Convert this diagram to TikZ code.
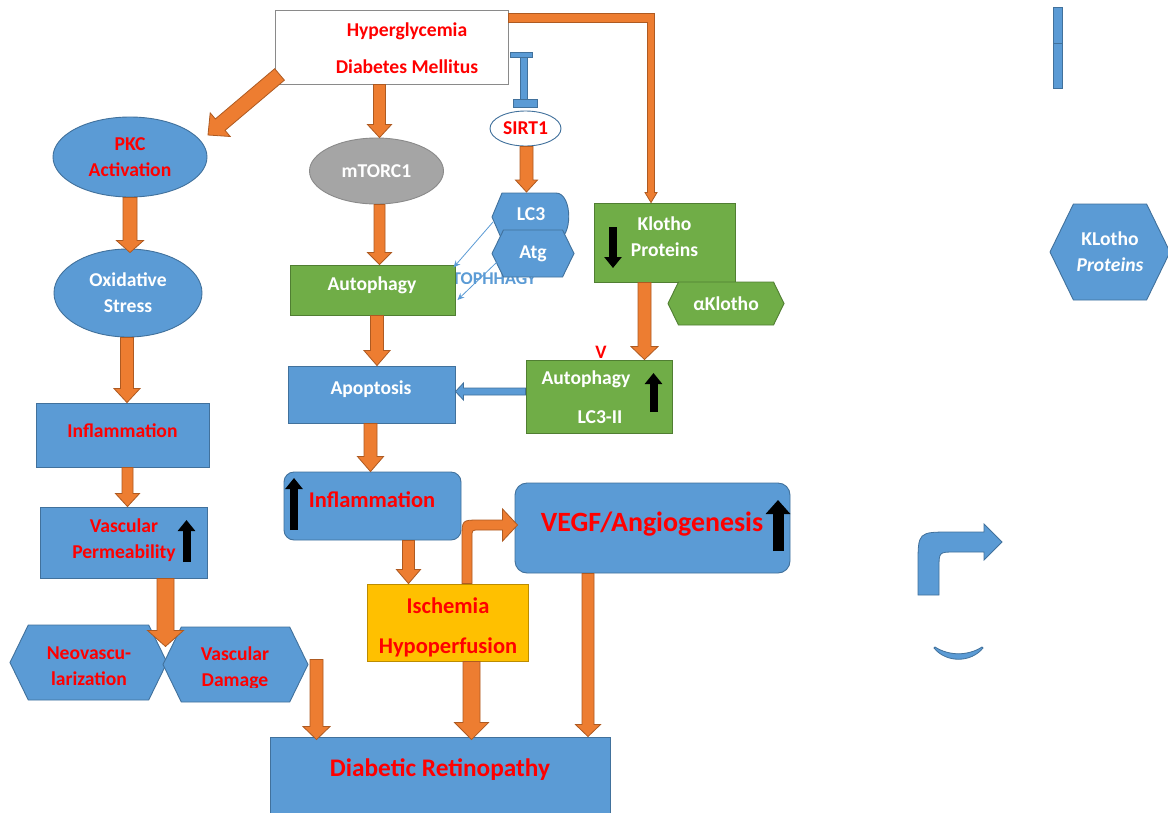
\documentclass[tikz,border=0pt]{standalone}
\usepackage{fontspec}
\setmainfont{Carlito}
\usetikzlibrary{shapes.geometric,shapes.symbols,arrows.meta,calc}
\definecolor{cblue}{HTML}{5B9BD5}
\definecolor{cbluedk}{HTML}{41719C}
\definecolor{cgreen}{HTML}{70AD47}
\definecolor{cgreendk}{HTML}{507E32}
\definecolor{corange}{HTML}{ED7D31}
\definecolor{corangedk}{HTML}{AE5A21}
\definecolor{cgray}{HTML}{A5A5A5}
\definecolor{cgraydk}{HTML}{8A8A8A}
\definecolor{cred}{HTML}{FF0000}
\definecolor{cyellow}{HTML}{FFC000}
\definecolor{cyellowdk}{HTML}{BC8C00}
\newcommand\blockarrow[6][oarrow]{%
  \coordinate (ba1) at #2;
  \coordinate (ba2) at #3;
  \coordinate (bah) at ($(ba2)!#6!(ba1)$);
  \path[#1] ($(ba1)!#4!90:(ba2)$) -- ($(bah)!#4!-90:(ba1)$) -- ($(bah)!#5!-90:(ba1)$) -- (ba2)
    -- ($(bah)!#5!90:(ba1)$) -- ($(bah)!#4!90:(ba1)$) -- ($(ba1)!#4!-90:(ba2)$) -- cycle;}
\tikzset{
  txt/.style={font=\bfseries\fontsize{19.6}{26}\selectfont, inner sep=0pt},
  bshape/.style={draw=cbluedk, fill=cblue, line width=0.9pt, inner sep=0pt},
  gshape/.style={draw=cgreendk, fill=cgreen, line width=0.9pt, inner sep=0pt},
  hexa/.style={shape=signal, signal to=east and west, signal pointer angle=128},
  oarrow/.style={fill=corange, draw=corangedk, line width=0.8pt},
  barrow/.style={fill=cblue, draw=cbluedk, line width=0.8pt},
  karrow/.style={draw=black, line width=8pt, -{Triangle[length=11pt,width=17pt]}},
  thinarr/.style={draw=cblue, line width=0.8pt, -{Stealth[length=7pt,width=6pt]}},
}
\begin{document}
\begin{tikzpicture}[x=1pt,y=-1pt]
\useasboundingbox (0,0) rectangle (1168,812);
\fill[white] (0,0) rectangle (1168,812);

% ---------- top box
\node[draw=cgraydk, fill=white, line width=0.9pt, minimum width=233pt, minimum height=74pt] (hyper) at (391.5,47) {};
\node[txt, text=cred, align=center, font=\bfseries\fontsize{19.6}{37}\selectfont] (hypert) at (407,48) {Hyperglycemia\\Diabetes Mellitus};

% ---------- left column
\node[ellipse, bshape, minimum width=154pt, minimum height=80pt, txt, text=cred, align=center] (pkc) at (130,157) {PKC\\Activation};
\node[ellipse, bshape, minimum width=148pt, minimum height=88pt, txt, text=white, align=center] (oxi) at (128,293) {Oxidative\\Stress};
\node[rectangle, bshape, minimum width=173pt, minimum height=64pt] (infl1) at (122.5,435) {};
\node[txt, text=cred] (infl1t) at (122.5,431) {Inflammation};
\node[rectangle, bshape, minimum width=167pt, minimum height=71pt] (vp) at (123.5,542.5) {};
\node[txt, text=cred, align=center] (vpt) at (124,540) {Vascular\\Permeability};
\node[hexa, bshape, minimum width=157pt, minimum height=75pt] (neo) at (88.5,662.5) {};
\node[txt, text=cred, align=center] (neot) at (89,666) {Neovascu-\\larization};
\node[hexa, bshape, minimum width=145pt, minimum height=75pt] (vd) at (235.5,664.5) {};
\begin{scope}
\clip (160,640) rectangle (310,687);
\node[txt, text=cred, align=center] (vdt) at (235,668) {Vascular\\Damage};
\end{scope}

% ---------- bottom box
\node[rectangle, bshape, minimum width=340pt, minimum height=78pt] (dr) at (440,776) {};
\node[txt, text=cred, font=\bfseries\fontsize{25.3}{30}\selectfont] (drt) at (440,770) {Diabetic Retinopathy};

% ---------- middle column
\node[ellipse, fill=cgray, draw=cgraydk, line width=0.9pt, minimum width=134pt, minimum height=66pt, txt, text=white] (mtorc) at (376.5,171) {mTORC1};
\begin{scope}
\clip (450,260) rectangle (560,283.5);
\node[txt, text=cblue, font=\bfseries\fontsize{18}{20}\selectfont, anchor=west] (autoph) at (452,279) {TOPHHAGY};
\end{scope}
\node[rectangle, gshape, minimum width=165pt, minimum height=50pt] (auto1) at (372.5,290) {};
\node[txt, text=white] (auto1t) at (372,285) {Autophagy};
\node[ellipse, fill=white, draw=cbluedk, line width=0.9pt, minimum width=71pt, minimum height=35pt, txt, text=cred] (sirt) at (525.5,128.5) {SIRT1};
\path[bshape] (492,217) -- (502,193) -- (556,193) .. controls (573,193) and (573,240) .. (556,240) -- (502,240) -- cycle;
\node[txt, text=white] (lc3) at (531,214) {LC3};
\coordinate (lc3tip) at (493,222);
\coordinate (lc3top) at (526.5,192);
\node[hexa, bshape, minimum width=82pt, minimum height=47pt, txt, text=white] (atg) at (533,253.5) {Atg};
\coordinate (atgtip) at ($(atg.west)+(5,9)$);
\node[rectangle, bshape, minimum width=167pt, minimum height=57pt] (apop) at (371.5,394.5) {};
\node[txt, text=white] (apopt) at (371,389) {Apoptosis};
\node[rectangle, rounded corners=10pt, bshape, minimum width=177pt, minimum height=68pt] (infl2) at (372.5,506) {};
\node[txt, text=cred, font=\bfseries\fontsize{22.5}{26}\selectfont] (infl2t) at (372,500) {Inflammation};
\node[rectangle, fill=cyellow, draw=cyellowdk, line width=0.9pt, minimum width=161pt, minimum height=77pt] (isch) at (447.5,622.5) {};
\node[txt, text=cred, align=center, font=\bfseries\fontsize{22.5}{40}\selectfont] (ischt) at (448,627) {Ischemia\\Hypoperfusion};
\node[rectangle, rounded corners=12pt, bshape, minimum width=275pt, minimum height=90pt] (vegf) at (652.5,528) {};
\node[txt, text=cred, font=\bfseries\fontsize{27.9}{32}\selectfont] (vegft) at (652,524) {VEGF/Angiogenesis};

% ---------- klotho column
\node[rectangle, gshape, minimum width=141pt, minimum height=79pt] (klotho) at (664.5,242.5) {};
\node[txt, text=white, align=center] (klothot) at (664.5,237) {Klotho\\Proteins};
\node[hexa, gshape, minimum width=116pt, minimum height=43pt, txt, text=white] (aklotho) at (726,303.5) {αKlotho};
\node[rectangle, gshape, minimum width=146pt, minimum height=73pt] (auto2) at (599,396.5) {};
\node[txt, text=white] (auto2a) at (586,379) {Autophagy};
\node[txt, text=white] (auto2b) at (600,417) {LC3-II};
\node[txt, text=cred, font=\bfseries\fontsize{19}{22}\selectfont] (vmark) at (601,352) {V};

% ---------- right side
\path[bshape] (1053,7) rectangle (1062,43);
\path[bshape] (1053,43) rectangle (1062,88);
\node[hexa, bshape, minimum width=120pt, minimum height=96pt, txt, text=white, align=center] (klp) at (1110,252) {KLotho\\\textit{Proteins}};
\path[barrow] (918,595) -- (918,565) .. controls (918,532) .. (951,532) -- (984,532) -- (984,524) -- (1002,542)
  -- (984,560) -- (984,552) -- (955,552) .. controls (939,552) .. (939,568) -- (939,595) -- cycle;
\path[barrow] (934,648) .. controls (946,663) and (971,663) .. (983,648) -- (982,647)
  .. controls (968,656) and (949,656) .. (935,647) -- cycle;

% ---------- connectors
\blockarrow{($(hyper.south west)+(5,-10)$)}{($(pkc.center)+(78,-22)$)}{7.5pt}{15.5pt}{16pt}
\blockarrow{($(mtorc.north |- hyper.south)+(3,0)$)}{($(mtorc.north)+(3,0)$)}{6pt}{12pt}{13pt}
\blockarrow{($(mtorc.south)+(3,0)$)}{($(mtorc.south |- auto1.north)+(3,0)$)}{5.5pt}{12pt}{12pt}
\blockarrow{($(auto1.south)+(4.5,0)$)}{($(auto1.south |- apop.north)+(4.5,0)$)}{6.5pt}{13pt}{15pt}
\blockarrow{($(apop.south)+(-1,0)$)}{($(apop.south |- infl2.north)+(-1,0)$)}{6.5pt}{13pt}{15pt}
\blockarrow{($(infl2.south)+(36,0)$)}{($(infl2.south |- isch.north)+(36,0)$)}{6pt}{12pt}{14pt}
\blockarrow{($(isch.south)+(24,0)$)}{($(isch.south |- dr.north)+(24,3)$)}{8.5pt}{17pt}{17pt}
\blockarrow{($(vd.east)+(8,-5)$)}{($(vd.east |- dr.north)+(8,3)$)}{6.5pt}{13.5pt}{13pt}
\blockarrow{($(vegf.south)+(-64.5,0)$)}{($(vegf.south |- dr.north)+(-64.5,0)$)}{6pt}{12.5pt}{12pt}
\blockarrow{($(sirt.south)+(1,0)$)}{(lc3top)}{6.5pt}{11pt}{12pt}
\blockarrow{(pkc.south)}{($(pkc.south |- oxi.north)+(0,4)$)}{7pt}{13.5pt}{12pt}
\blockarrow{($(oxi.south)+(-1,0)$)}{($(oxi.south |- infl1.north)+(-1,0)$)}{6.5pt}{13pt}{14pt}
\blockarrow{($(infl1.south)+(5,0)$)}{($(infl1.south |- vp.north)+(5,0)$)}{5.5pt}{12pt}{13pt}
\blockarrow{($(vp.south)+(42,0)$)}{($(vp.south)+(42,68)$)}{8.5pt}{18pt}{16pt}
\blockarrow{($(klotho.south)+(-20,0)$)}{($(klotho.south |- auto2.north)+(-20,0)$)}{6.5pt}{13.5pt}{13pt}
\blockarrow[barrow]{($(auto2.west)+(0,-5)$)}{($(apop.east)+(0,-3)$)}{3.5pt}{8.5pt}{8pt}

% hyperglycemia -> klotho (L-shaped)
\path[oarrow] let \p1=($(hyper.north east)+(0,4)$), \p2=($(klotho.north)+(-13.5,0)$) in
  (\x1,\y1) -- (\x2+3.5pt,\y1) -- (\x2+3.5pt,\y2+10pt) -- (\x2+6pt,\y2+10pt) -- (\p2)
  -- (\x2-6pt,\y2+10pt) -- (\x2-3.5pt,\y2+10pt) -- (\x2-3.5pt,\y1-9pt) -- (\x1,\y1-9pt) -- cycle;

% ischemia -> VEGF (bent)
\path[oarrow] let \p1=($(isch.north)+(19.5,0)$), \p2=($(vegf.west)+(3,-3)$) in
  (\x1-5pt,\y1) -- (\x1-5pt,\y2-13pt) .. controls (\x1-5pt,\y2+5pt) .. (\x1+12pt,\y2+5pt)
  -- (\x2-15pt,\y2+5pt) -- (\x2-15pt,\y2+16pt) -- (\p2) -- (\x2-15pt,\y2-16pt) -- (\x2-15pt,\y2-5pt)
  -- (\x1+12pt,\y2-5pt) .. controls (\x1+5pt,\y2-5pt) .. (\x1+5pt,\y2-12pt) -- (\x1+5pt,\y1) -- cycle;

% hyperglycemia -| SIRT1 inhibition
\path[bshape] let \p1=(sirt.north), \p2=(hyper.east) in
  (\x1-5.5pt,\y2-10pt) rectangle (\x1+1.5pt,\y1+11pt)
  (\x2+2pt,\y2-5pt) rectangle (\x1+7pt,\y2-10pt)
  (\x1-12.5pt,\y1+11pt) rectangle (\x1+11.5pt,\y1+3pt);

% LC3 / Atg -> Autophagy
\draw[thinarr] (lc3tip) -- ($(auto1.north east)+(-2,3)$);
\draw[thinarr] (atgtip) -- ($(auto1.east)+(2,10)$);

% black up/down marks
\draw[karrow] (613,227) -- (613,268);
\draw[karrow] (186.5,562) -- (186.5,520);
\draw[karrow] (653.5,412) -- (653.5,373);
\draw[karrow] (294,530) -- (294,478);
\draw[draw=black, line width=11pt, -{Triangle[length=14pt,width=24pt]}] (778,551) -- (778,500);
\end{tikzpicture}
\end{document}
